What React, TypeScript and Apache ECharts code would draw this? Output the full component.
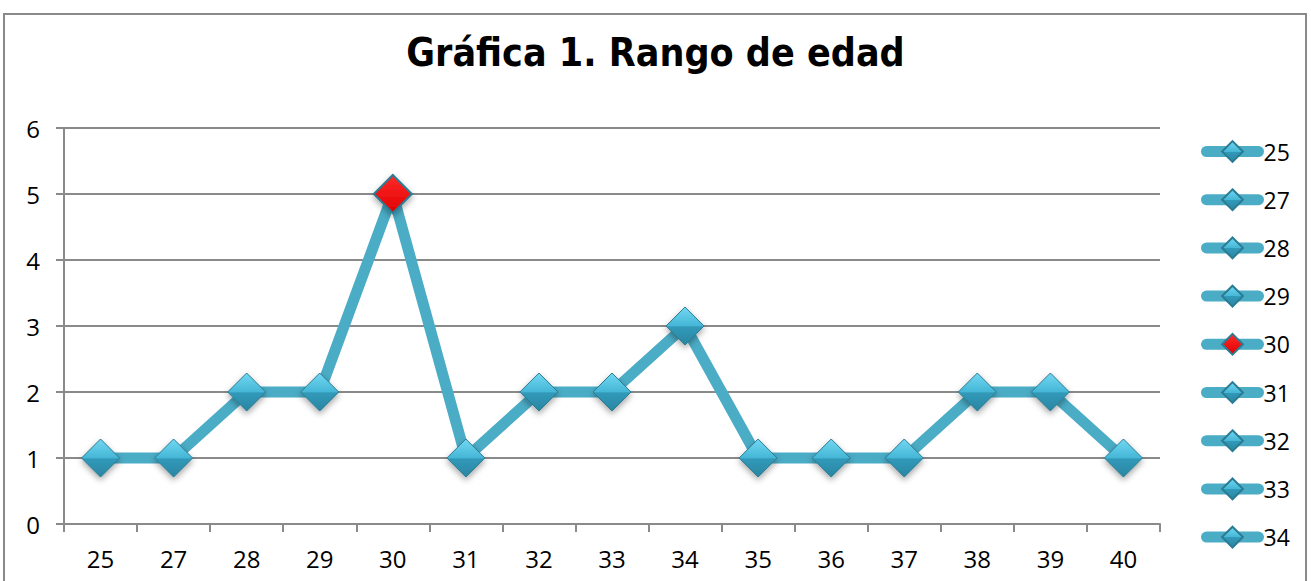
import React, { useEffect, useRef } from "react";
import * as echarts from "echarts";

const titleText = "Gráfica 1. Rango de edad";
const categories = ["25", "27", "28", "29", "30", "31", "32", "33", "34", "35", "36", "37", "38", "39", "40"];
const values = [1, 1, 2, 2, 5, 1, 2, 2, 3, 1, 1, 1, 2, 2, 1];
const highlightIndex = 4;
const legendNames = ["25", "27", "28", "29", "30", "31", "32", "33", "34"];
const yTicks = { min: 0, max: 6, interval: 1 };

const LINE_COLOR = "#4BACC6";
const FONT = "'Open Sans', 'Liberation Sans', sans-serif";

const blueDiamond = () => ({
  color: new echarts.graphic.LinearGradient(0, 0, 0, 1, [
    { offset: 0, color: "#72d8f3" },
    { offset: 0.5, color: "#45b6d6" },
    { offset: 0.52, color: "#3199b9" },
    { offset: 1, color: "#2a86a2" },
  ]),
  borderColor: "#2b7b92",
  borderWidth: 1,
  shadowBlur: 6,
  shadowColor: "rgba(0,0,0,0.35)",
  shadowOffsetY: 3,
});

const redDiamond = () => ({
  color: new echarts.graphic.LinearGradient(0, 0, 0, 1, [
    { offset: 0, color: "#ff2a2a" },
    { offset: 1, color: "#e00000" },
  ]),
  borderColor: "#2b7b92",
  borderWidth: 2,
  shadowBlur: 6,
  shadowColor: "rgba(0,0,0,0.35)",
  shadowOffsetY: 3,
});

export default function App() {
  const ref = useRef<HTMLDivElement>(null);
  useEffect(() => {
    if (!ref.current) return;
    const chart = echarts.init(ref.current, null, { renderer: "svg" });
    const mainData = values.map((v, i) =>
      i === highlightIndex ? { value: v, itemStyle: redDiamond() } : { value: v }
    );
    const legendSeries = legendNames.map((n) => ({
      name: n,
      type: "line",
      data: [],
      symbol: "diamond",
      lineStyle: { color: LINE_COLOR, width: 11 },
      itemStyle: n === categories[highlightIndex] ? redDiamond() : blueDiamond(),
    }));
    chart.setOption({
      animation: false,
      backgroundColor: "#ffffff",
      title: {
        text: titleText,
        left: "center",
        top: 28,
        textStyle: { fontFamily: "'DejaVu Sans Condensed', sans-serif", fontSize: 39, fontWeight: "bold", color: "#000" },
      },
      graphic: [
        {
          type: "rect",
          shape: { x: 4, y: 14, width: 1302, height: 620 },
          style: { fill: "none", stroke: "#8a8a8a", lineWidth: 2 },
          silent: true,
        },
      ],
      grid: { left: 64, right: 151, top: 128, bottom: 57 },
      legend: {
        orient: "vertical",
        left: 1201,
        top: 138.5,
        padding: 0,
        itemWidth: 52,
        itemHeight: 26,
        itemGap: 22.2,
        data: legendNames,
        lineStyle: { width: 11, cap: "round" },
        textStyle: { fontFamily: FONT, fontSize: 23, color: "#000", lineHeight: 26 },
      },
      xAxis: {
        type: "category",
        data: categories,
        boundaryGap: true,
        axisLine: { lineStyle: { color: "#8a8a8a", width: 2 } },
        axisTick: { show: true, interval: 0, length: 8, lineStyle: { color: "#8a8a8a", width: 2 } },
        axisLabel: { fontFamily: FONT, fontSize: 24, color: "#000", margin: 22, interval: 0 },
      },
      yAxis: {
        type: "value",
        min: yTicks.min,
        max: yTicks.max,
        interval: yTicks.interval,
        axisLine: { show: true, lineStyle: { color: "#8a8a8a", width: 2 } },
        axisTick: { show: true, length: 8, lineStyle: { color: "#8a8a8a", width: 2 } },
        axisLabel: { fontFamily: FONT, fontSize: 24, color: "#000", margin: 24 },
        splitLine: { lineStyle: { color: "#8a8a8a", width: 2 } },
      },
      series: [
        {
          name: "Rango",
          type: "line",
          data: mainData,
          symbol: "diamond",
          symbolSize: 38,
          lineStyle: { color: LINE_COLOR, width: 11 },
          itemStyle: blueDiamond(),
          z: 3,
        },
        ...legendSeries,
      ],
    });
    return () => chart.dispose();
  }, []);
  return <div ref={ref} style={{ position: "fixed", left: 0, top: 0, width: 1311, height: 581 }} />;
}
